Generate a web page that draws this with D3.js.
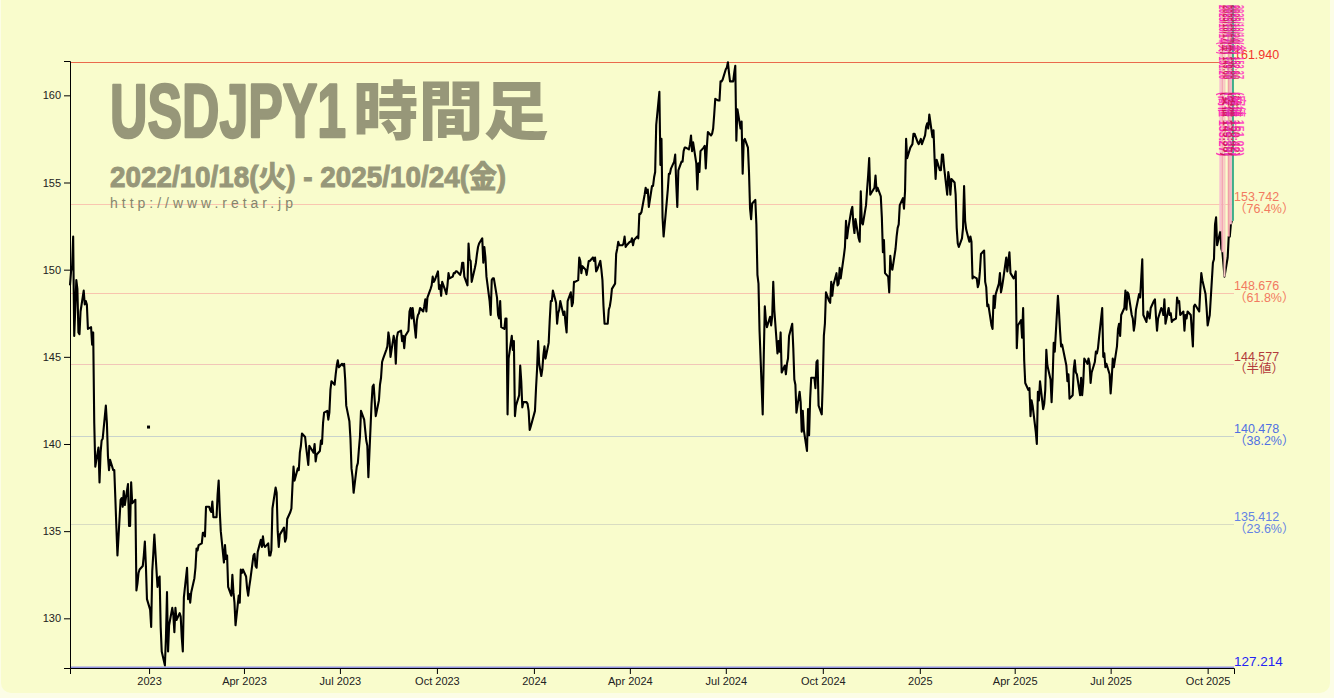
<!DOCTYPE html>
<meta charset="utf-8">
<script src="https://cdn.jsdelivr.net/npm/d3@7/dist/d3.min.js"></script>
<style>
body { margin: 0; background: #fcfde6; }
text { font-family: "Liberation Sans", "Noto Sans CJK JP", sans-serif; }
.axis text { font-size: 11px; fill: #222; font-family: "Liberation Sans", sans-serif; }
.axis path, .axis line { stroke: #000; }
</style>
<body>
<script>

// hourly USDJPY (MM-DD, price)
var p2022 = [["10-18",149.1],["10-19",149.9],["10-20",150.2],["10-21",151.9],["10-22",146.2],["10-24",149.4],["10-25",148.9],["10-26",146.4],["10-27",146.3],["10-28",147.6],["10-31",148.8],["11-01",148.0],["11-02",148.2],["11-03",148.0],["11-04",146.6],["11-07",146.7],["11-08",145.7],["11-09",146.4],["11-10",141.2],["11-11",138.7],["11-14",139.8],["11-15",137.8],["11-16",139.5],["11-17",140.2],["11-18",140.3],["11-21",142.2],["11-22",141.2],["11-23",139.3],["11-24",138.5],["11-25",139.1],["11-28",138.5],["11-29",138.5],["11-30",136.9],["12-01",135.2],["12-02",133.6],["12-05",136.8],["12-06",136.9],["12-07",136.4],["12-08",137.3],["12-09",136.5],["12-12",137.7],["12-13",135.3],["12-14",135.3],["12-15",137.8],["12-16",136.6],["12-19",136.8],["12-20",131.6],["12-21",132.0],["12-22",132.6],["12-23",132.8],["12-26",133.0],["12-27",133.6],["12-28",134.4],["12-29",133.0],["12-30",131.1]];

var p2023 = [["01-02",130.5],["01-03",129.5],["01-04",132.7],["01-05",133.7],["01-06",134.8],["01-09",131.8],["01-10",132.3],["01-11",132.4],["01-12",129.5],["01-13",128.1],["01-16",127.3],["01-17",128.9],["01-18",131.5],["01-19",128.1],["01-20",129.6],["01-23",130.6],["01-24",130.2],["01-25",129.2],["01-26",130.6],["01-27",129.9],["01-30",130.3],["01-31",130.1],["02-01",128.9],["02-02",128.1],["02-03",131.2],["02-06",132.9],["02-07",131.1],["02-08",131.4],["02-09",130.9],["02-10",131.5],["02-13",132.3],["02-14",132.9],["02-15",134.0],["02-16",133.9],["02-17",134.2],["02-20",134.3],["02-21",134.9],["02-22",134.9],["02-23",134.7],["02-24",136.4],["02-27",136.4],["02-28",136.2],["03-01",136.1],["03-02",136.7],["03-03",135.8],["03-06",135.8],["03-07",137.1],["03-08",137.9],["03-09",136.2],["03-10",135.0],["03-13",133.2],["03-14",134.2],["03-15",133.4],["03-16",133.6],["03-17",131.8],["03-20",131.3],["03-21",132.5],["03-22",131.5],["03-23",130.9],["03-24",129.6],["03-27",131.3],["03-28",130.9],["03-29",132.8],["03-30",132.6],["03-31",132.8],["04-03",132.4],["04-04",131.7],["04-05",131.3],["04-06",131.8],["04-07",132.2],["04-10",133.6],["04-11",133.7],["04-12",133.0],["04-13",132.9],["04-14",133.8],["04-17",134.5],["04-18",134.1],["04-19",134.7],["04-20",134.2],["04-21",134.1],["04-24",134.3],["04-25",133.6],["04-26",133.6],["04-27",133.9],["04-28",136.3],["05-01",137.5],["05-02",137.2],["05-03",135.0],["05-04",134.1],["05-05",134.8],["05-08",135.1],["05-09",135.2],["05-10",134.4],["05-11",134.6],["05-12",135.7],["05-15",136.1],["05-16",136.3],["05-17",137.6],["05-18",138.7],["05-19",137.9],["05-22",138.6],["05-23",138.5],["05-24",139.5],["05-25",139.9],["05-26",140.6],["05-29",140.4],["05-30",139.8],["05-31",139.3],["06-01",138.8],["06-02",139.9],["06-05",139.6],["06-06",139.5],["06-07",140.0],["06-08",139.0],["06-09",139.4],["06-12",139.6],["06-13",140.2],["06-14",140.0],["06-15",141.2],["06-16",141.8],["06-19",141.9],["06-20",141.4],["06-21",141.8],["06-22",143.1],["06-23",143.6],["06-26",143.4],["06-27",144.0],["06-28",144.5],["06-29",144.8],["06-30",144.4],["07-03",144.6],["07-04",144.5],["07-05",144.6],["07-06",143.7],["07-07",142.2],["07-10",141.3],["07-11",140.3],["07-12",138.6],["07-13",138.1],["07-14",137.2],["07-17",138.7],["07-18",138.9],["07-19",139.7],["07-20",140.4],["07-21",141.9],["07-24",141.4],["07-25",140.8],["07-26",140.2],["07-27",139.9],["07-28",138.1],["07-31",142.3],["08-01",143.3],["08-02",143.4],["08-03",142.5],["08-04",141.6],["08-07",142.5],["08-08",143.4],["08-09",143.8],["08-10",144.7],["08-11",144.9],["08-14",145.4],["08-15",145.6],["08-16",146.4],["08-17",146.0],["08-18",145.0],["08-21",146.2],["08-22",145.9],["08-23",144.6],["08-24",146.1],["08-25",146.4],["08-28",146.5],["08-29",145.9],["08-30",146.2],["08-31",145.5],["09-01",146.2],["09-04",146.5],["09-05",147.6],["09-06",147.8],["09-07",147.2],["09-08",147.8],["09-11",146.1],["09-12",147.1],["09-13",147.4],["09-14",147.5],["09-15",147.8],["09-18",147.6],["09-19",147.9],["09-20",148.3],["09-21",147.6],["09-22",148.4],["09-25",148.9],["09-26",149.1],["09-27",149.6],["09-28",149.3],["09-29",149.4],["10-02",149.9],["10-03",148.9],["10-04",149.1],["10-05",148.5],["10-06",149.3],["10-09",148.8],["10-10",148.6],["10-11",149.1],["10-12",149.8],["10-13",149.5],["10-16",149.6],["10-17",149.8],["10-18",149.8],["10-19",149.9],["10-20",149.9],["10-23",149.7],["10-24",149.9],["10-25",150.4],["10-26",150.4],["10-27",149.6],["10-30",149.1],["10-31",151.5],["11-01",150.6],["11-02",150.5],["11-03",149.3],["11-06",150.1],["11-07",150.4],["11-08",150.9],["11-09",151.3],["11-10",151.5],["11-13",151.8],["11-14",150.4],["11-15",151.3],["11-16",150.7],["11-17",149.6],["11-20",148.2],["11-21",147.4],["11-22",149.4],["11-23",149.5],["11-24",149.5],["11-27",148.4],["11-28",147.4],["11-29",147.2],["11-30",148.2],["12-01",146.7],["12-04",146.6],["12-05",147.2],["12-06",147.2],["12-07",141.7],["12-08",144.9],["12-11",146.2],["12-12",145.4],["12-13",145.9],["12-14",141.6],["12-15",142.2],["12-18",142.8],["12-19",144.5],["12-20",143.6],["12-21",142.1],["12-22",142.4],["12-25",142.4],["12-26",142.3],["12-27",141.9],["12-28",140.8],["12-29",141.0]];

var p2024 = [["01-02",141.9],["01-03",143.2],["01-04",144.3],["01-05",145.9],["01-06",144.6],["01-08",143.9],["01-09",144.3],["01-10",145.1],["01-11",145.6],["01-12",144.9],["01-15",145.8],["01-16",147.1],["01-17",148.2],["01-18",148.2],["01-19",148.8],["01-22",148.1],["01-23",146.9],["01-24",147.5],["01-25",147.7],["01-26",148.2],["01-29",147.4],["01-30",147.6],["01-31",146.9],["02-01",146.4],["02-02",148.2],["02-05",148.7],["02-06",147.9],["02-07",148.1],["02-08",149.3],["02-09",149.3],["02-12",149.4],["02-13",150.7],["02-14",150.5],["02-15",149.8],["02-16",150.2],["02-19",150.0],["02-20",149.7],["02-21",150.1],["02-22",150.5],["02-23",150.5],["02-26",150.7],["02-27",150.5],["02-28",150.7],["02-29",149.9],["03-01",150.0],["03-04",150.5],["03-05",150.0],["03-06",149.4],["03-07",147.9],["03-08",146.9],["03-11",146.9],["03-12",147.7],["03-13",147.9],["03-14",148.3],["03-15",148.9],["03-18",149.2],["03-19",150.9],["03-20",151.2],["03-21",151.6],["03-22",151.4],["03-25",151.4],["03-26",151.5],["03-27",151.9],["03-28",151.3],["03-29",151.4],["04-01",151.6],["04-02",151.6],["04-03",151.8],["04-04",151.4],["04-05",151.7],["04-08",151.9],["04-09",151.8],["04-10",153.2],["04-11",153.2],["04-12",153.3],["04-15",154.3],["04-16",154.7],["04-17",154.4],["04-18",154.6],["04-19",153.6],["04-22",154.8],["04-23",154.8],["04-24",155.3],["04-25",155.6],["04-26",158.3],["04-29",160.2],["04-30",156.0],["05-01",157.5],["05-02",153.0],["05-03",151.9],["05-06",153.9],["05-07",154.6],["05-08",155.5],["05-09",155.5],["05-10",155.8],["05-13",156.2],["05-14",156.6],["05-15",154.9],["05-16",153.6],["05-17",155.7],["05-20",156.2],["05-21",156.2],["05-22",156.8],["05-23",157.0],["05-24",157.0],["05-27",156.9],["05-28",157.2],["05-29",157.7],["05-30",156.8],["05-31",157.3],["06-03",156.1],["06-04",154.6],["06-05",156.1],["06-06",155.6],["06-07",156.8],["06-10",157.0],["06-11",157.1],["06-12",155.8],["06-13",157.0],["06-14",157.9],["06-17",157.7],["06-18",157.8],["06-19",158.1],["06-20",158.9],["06-21",159.8],["06-24",159.7],["06-25",159.7],["06-26",160.8],["06-27",160.8],["06-28",160.9],["07-01",161.5],["07-02",161.6],["07-03",161.9],["07-04",161.3],["07-05",160.8],["07-08",160.8],["07-09",161.3],["07-10",161.7],["07-11",157.4],["07-12",159.2],["07-15",158.1],["07-16",158.5],["07-17",155.5],["07-18",157.4],["07-19",157.5],["07-22",157.0],["07-23",155.6],["07-24",153.5],["07-25",152.9],["07-26",153.8],["07-29",154.0],["07-30",152.6],["07-31",149.7],["08-01",149.2],["08-02",146.5],["08-05",141.7],["08-06",145.0],["08-07",147.9],["08-08",147.1],["08-09",146.7],["08-12",147.3],["08-13",146.8],["08-14",147.3],["08-15",149.3],["08-16",147.7],["08-19",145.2],["08-20",145.9],["08-21",145.3],["08-22",146.4],["08-23",144.1],["08-26",144.5],["08-27",144.0],["08-28",144.6],["08-29",144.9],["08-30",146.2],["09-02",146.9],["09-03",145.5],["09-04",143.7],["09-05",143.4],["09-06",141.8],["09-09",143.0],["09-10",142.4],["09-11",140.7],["09-12",141.9],["09-13",140.8],["09-16",139.6],["09-17",142.0],["09-18",140.5],["09-19",142.6],["09-20",143.8],["09-23",143.8],["09-24",143.2],["09-25",144.7],["09-26",144.8],["09-27",142.2],["09-30",141.7],["10-01",143.6],["10-02",146.2],["10-03",146.9],["10-04",148.7],["10-07",148.2],["10-08",148.1],["10-09",149.3],["10-10",148.5],["10-11",149.1],["10-14",149.8],["10-15",149.1],["10-16",149.2],["10-17",150.1],["10-18",149.5],["10-21",150.8],["10-22",151.3],["10-23",152.8],["10-24",151.8],["10-25",152.3],["10-28",153.4],["10-29",153.6],["10-30",152.6],["10-31",152.1],["11-01",152.9],["11-04",151.8],["11-05",151.6],["11-06",154.5],["11-07",152.7],["11-08",152.6],["11-11",153.7],["11-12",154.6],["11-13",155.4],["11-14",156.4],["11-15",154.3],["11-18",154.6],["11-19",154.7],["11-20",155.4],["11-21",154.5],["11-22",154.7],["11-25",154.2],["11-26",153.0],["11-27",151.0],["11-28",151.7],["11-29",149.8],["12-02",149.6],["12-03",148.7],["12-04",150.8],["12-05",150.1],["12-06",150.0],["12-09",151.2],["12-10",151.9],["12-11",152.4],["12-12",152.6],["12-13",153.7],["12-16",154.1],["12-17",153.5],["12-18",154.5],["12-19",157.5],["12-20",156.4],["12-23",157.0],["12-24",157.1],["12-25",157.2],["12-26",157.8],["12-27",157.8],["12-30",157.3],["12-31",157.2]];

var p2025 = [["01-02",157.5],["01-03",157.2],["01-06",157.7],["01-07",158.2],["01-08",158.4],["01-09",158.1],["01-10",158.9],["01-13",157.6],["01-14",158.0],["01-15",156.4],["01-16",155.2],["01-17",156.3],["01-20",155.7],["01-21",155.7],["01-22",156.6],["01-23",156.6],["01-24",155.9],["01-27",154.3],["01-28",155.6],["01-29",155.2],["01-30",154.3],["01-31",155.2],["02-03",155.0],["02-04",154.3],["02-05",152.4],["02-06",151.5],["02-07",151.3],["02-10",151.8],["02-11",152.4],["02-12",154.8],["02-13",152.8],["02-14",152.3],["02-17",151.6],["02-18",151.9],["02-19",151.6],["02-20",149.5],["02-21",149.6],["02-24",149.5],["02-25",149.0],["02-26",149.2],["02-27",149.9],["02-28",150.9],["03-03",151.1],["03-04",149.3],["03-05",149.0],["03-06",147.9],["03-07",148.0],["03-10",146.8],["03-11",146.6],["03-12",148.5],["03-13",147.8],["03-14",148.6],["03-17",149.2],["03-18",149.8],["03-19",148.7],["03-20",149.0],["03-21",149.4],["03-24",150.7],["03-25",149.9],["03-26",150.5],["03-27",151.0],["03-28",149.8],["03-31",149.5],["04-01",149.6],["04-02",149.9],["04-03",145.5],["04-04",146.8],["04-07",147.1],["04-08",146.1],["04-09",147.8],["04-10",144.8],["04-11",143.5],["04-14",143.1],["04-15",143.2],["04-16",141.6],["04-17",142.5],["04-18",142.2],["04-21",140.7],["04-22",140.0],["04-23",143.0],["04-24",142.5],["04-25",143.6],["04-28",142.0],["04-29",142.3],["04-30",143.1],["05-01",145.4],["05-02",144.5],["05-05",143.7],["05-06",142.4],["05-07",143.8],["05-08",145.8],["05-09",145.3],["05-12",148.5],["05-13",147.6],["05-14",146.5],["05-15",145.6],["05-16",145.7],["05-19",144.8],["05-20",144.5],["05-21",143.6],["05-22",144.0],["05-23",142.6],["05-26",142.8],["05-27",144.3],["05-28",144.8],["05-29",144.1],["05-30",144.0],["06-02",142.8],["06-03",143.8],["06-04",142.8],["06-05",143.5],["06-06",144.9],["06-09",144.6],["06-10",144.9],["06-11",144.6],["06-12",143.5],["06-13",144.1],["06-16",144.7],["06-17",145.3],["06-18",145.2],["06-19",145.5],["06-20",146.1],["06-23",147.8],["06-24",145.0],["06-25",145.2],["06-26",144.4],["06-27",144.6],["06-30",144.0],["07-01",142.9],["07-02",143.7],["07-03",144.9],["07-04",144.4],["07-07",145.6],["07-08",146.6],["07-09",146.9],["07-10",146.2],["07-11",147.4],["07-14",147.8],["07-15",148.8],["07-16",147.7],["07-17",148.7],["07-18",148.6],["07-21",147.4],["07-22",147.2],["07-23",146.5],["07-24",146.9],["07-25",147.7],["07-28",148.6],["07-29",148.4],["07-30",149.5],["07-31",150.6],["08-01",147.4],["08-04",147.0],["08-05",147.6],["08-06",147.4],["08-07",147.2],["08-08",147.8],["08-11",148.2],["08-12",148.3],["08-13",147.3],["08-14",146.5],["08-15",147.2],["08-18",147.8],["08-19",147.7],["08-20",147.4],["08-21",148.3],["08-22",146.9],["08-25",147.8],["08-26",147.4],["08-27",147.5],["08-28",147.0],["08-29",147.1],["09-01",147.2],["09-02",148.4],["09-03",148.1],["09-04",148.2],["09-05",147.4],["09-08",147.6],["09-09",146.5],["09-10",147.4],["09-11",147.2],["09-12",147.6],["09-15",147.4],["09-16",146.5],["09-17",145.6],["09-18",147.9],["09-19",148.0],["09-22",147.7],["09-23",147.6],["09-24",148.8],["09-25",149.8],["09-26",149.4],["09-29",148.6],["09-30",147.8],["10-01",146.8],["10-02",147.1],["10-03",147.4],["10-06",150.4],["10-07",150.6],["10-08",152.6],["10-09",153.0],["10-10",151.4],["10-13",152.2],["10-14",151.2],["10-15",151.0],["10-16",150.3],["10-17",149.6],["10-20",150.7],["10-21",151.9],["10-22",151.9],["10-23",152.6],["10-24",152.8]];

// stray point visible near the start of 2023
var strayDots = [["2022-12-31", 141.0]];

// retracement levels, high to low
var levels = [161.940, 153.742, 148.676, 144.577, 140.478, 135.412, 127.214];
var levelNotes = ["", "（76.4%）", "（61.8%）", "（半値）", "（38.2%）", "（23.6%）", ""];
var levelLineColors = ["#ea6a4c", "#f9c6b0", "#f8c4ae", "#f1c6b8", "#c9d3cc", "#d9dcc2", "#9191e0"];
var levelTextColors = ["#f2352b", "#f27a60", "#f27a60", "#b23b3b", "#5070e2", "#6483e4", "#2424f4"];

var yTicks = [130, 135, 140, 145, 150, 155, 160];
var xTickDates = ["2023-01-01","2023-04-01","2023-07-01","2023-10-01","2024-01-01","2024-04-01","2024-07-01","2024-10-01","2025-01-01","2025-04-01","2025-07-01","2025-10-01"];
var xTickLabels = ["2023","Apr 2023","Jul 2023","Oct 2023","2024","Apr 2024","Jul 2024","Oct 2024","2025","Apr 2025","Jul 2025","Oct 2025"];

// event markers at the top right
var eventDates = ["2025-10-13","2025-10-15","2025-10-17","2025-10-21","2025-10-23","2025-10-25"];
var eventColors = ["#f8c2d0","#f3a6b6","#f8cac2","#ef9fa8","#f6b6c8","#3fae8a"];
var eventLabels = ["2025/10/14(火) 151.20","2025/10/17(金) 149.60","2025/10/21(火) 151.90","2025/10/24(金) 152.80","2025/10/10(金) 153.27"];
var eventNotes = ["(高値 153.27)","(安値 149.38)","(終値 152.86)","(始値 150.42)","(安値 151.02)"];

var width = 1334, height = 698;

var svg = d3.select("body").append("svg")
    .attr("width", width)
    .attr("height", height);

svg.append("rect")
    .attr("x", 1).attr("y", -14)
    .attr("width", 1329).attr("height", 707)
    .attr("rx", 10)
    .attr("fill", "#f9fccc");

var parse = d3.timeParse("%Y-%m-%d");

function rows(year, arr) {
  return arr.map(function(d) { return {date: parse(year + "-" + d[0]), value: d[1]}; });
}
var data = [].concat(rows(2022, p2022), rows(2023, p2023), rows(2024, p2024), rows(2025, p2025));

var x = d3.scaleTime()
    .domain([parse("2022-10-18"), parse("2025-10-26")])
    .range([70, 1234]);

var y = d3.scaleLinear()
    .domain([127.15, 161.97])
    .range([668, 61]);

// retracement lines
svg.append("g").selectAll("line")
    .data(levels)
    .enter().append("line")
    .attr("x1", x.range()[0])
    .attr("x2", x.range()[1])
    .attr("y1", function(d) { return Math.round(y(d)) + 0.5; })
    .attr("y2", function(d) { return Math.round(y(d)) + 0.5; })
    .attr("stroke", function(d, i) { return levelLineColors[i]; })
    .attr("stroke-width", function(d, i) { return i == levels.length - 1 ? 2 : 1; });

// title (squeezed horizontally like the original condensed face)
var titleColor = "#979779";
svg.append("text")
    .attr("transform", "translate(110,137) scale(0.682,1)")
    .attr("font-family", "'Liberation Sans', sans-serif")
    .attr("font-weight", "bold")
    .attr("font-size", 76)
    .attr("fill", titleColor)
    .attr("stroke", titleColor)
    .attr("stroke-width", 2.5)
    .attr("stroke-linejoin", "round")
    .text("USDJPY1");

svg.append("text")
    .attr("transform", "translate(353,134) scale(1.02,1)")
    .attr("font-family", "'Noto Sans CJK JP', sans-serif")
    .attr("font-weight", 900)
    .attr("font-size", 64)
    .attr("fill", titleColor)
    .text("時間足");

svg.append("text")
    .attr("x", 110).attr("y", 187)
    .attr("font-family", "'Liberation Sans Narrow', 'Liberation Sans', 'Noto Sans CJK JP', sans-serif")
    .attr("font-weight", "bold")
    .attr("font-size", 30)
    .attr("textLength", 396)
    .attr("lengthAdjust", "spacingAndGlyphs")
    .attr("fill", titleColor)
    .attr("stroke", titleColor)
    .attr("stroke-width", 1)
    .text("2022/10/18(火) - 2025/10/24(金)");

svg.append("text")
    .attr("x", 110).attr("y", 208)
    .attr("font-family", "'DejaVu Sans Mono', monospace")
    .attr("font-size", 14)
    .attr("textLength", 183)
    .attr("fill", "#85856c")
    .text("http://www.retar.jp");

// price line
var line = d3.line()
    .x(function(d) { return x(d.date); })
    .y(function(d) { return y(d.value); });

svg.append("path")
    .datum(data)
    .attr("fill", "none")
    .attr("stroke", "#000")
    .attr("stroke-width", 2.1)
    .attr("stroke-linejoin", "round")
    .attr("d", line);

svg.append("g").selectAll("rect")
    .data(strayDots)
    .enter().append("rect")
    .attr("x", function(d) { return x(parse(d[0])) - 1; })
    .attr("y", function(d) { return y(d[1]) - 1; })
    .attr("width", 3).attr("height", 3)
    .attr("fill", "#000");

// level labels
var lab = svg.append("g").selectAll("g")
    .data(levels)
    .enter().append("g")
    .attr("transform", function(d) { return "translate(" + x.range()[1] + "," + y(d) + ")"; });

lab.append("text")
    .attr("y", function(d, i) { return i == levels.length - 1 ? -1 : -3; })
    .attr("font-size", function(d, i) { return i == levels.length - 1 ? 13.5 : 12.5; })
    .attr("fill", function(d, i) { return levelTextColors[i]; })
    .text(function(d) { return d3.format(".3f")(d); });

lab.append("text")
    .attr("y", 9)
    .attr("font-size", 12.5)
    .attr("fill", function(d, i) { return levelTextColors[i]; })
    .text(function(d, i) { return levelNotes[i]; });

// event markers
var bisect = d3.bisector(function(d) { return d.date; }).left;
function priceAt(dt) {
  var i = Math.min(bisect(data, dt), data.length - 1);
  return data[i].value;
}

svg.append("g").selectAll("line")
    .data(eventDates)
    .enter().append("line")
    .attr("x1", function(d) { return x(parse(d)); })
    .attr("x2", function(d) { return x(parse(d)); })
    .attr("y1", 5)
    .attr("y2", function(d) { return y(priceAt(parse(d))); })
    .attr("stroke", function(d, i) { return eventColors[i]; })
    .attr("stroke-width", 2);

var evColors = ["#ff14b4", "#c8104e", "#e43cc4", "#d0105a", "#ff30c0"];
svg.append("g").selectAll("text")
    .data(eventLabels)
    .enter().append("text")
    .attr("transform", function(d, i) { return "translate(" + (1219 + i * 4) + ",5) rotate(90)"; })
    .attr("font-family", "'DejaVu Sans', 'Noto Sans CJK JP', sans-serif")
    .attr("font-weight", "bold")
    .attr("font-size", 12)
    .attr("textLength", 74)
    .attr("lengthAdjust", "spacingAndGlyphs")
    .attr("fill", function(d, i) { return evColors[i]; })
    .attr("opacity", 0.85)
    .text(function(d) { return d; });

svg.append("g").selectAll("text")
    .data(eventNotes)
    .enter().append("text")
    .attr("transform", function(d, i) { return "translate(" + (1219 + i * 4) + ",92) rotate(90)"; })
    .attr("font-family", "'DejaVu Sans', 'Noto Sans CJK JP', sans-serif")
    .attr("font-weight", "bold")
    .attr("font-size", 12)
    .attr("textLength", 64)
    .attr("lengthAdjust", "spacingAndGlyphs")
    .attr("fill", function(d, i) { return evColors[i]; })
    .attr("opacity", 0.85)
    .text(function(d) { return d; });

// axes
svg.append("g")
    .attr("class", "axis")
    .attr("transform", "translate(0," + y.range()[0] + ")")
    .call(d3.axisBottom(x)
        .tickValues(xTickDates.map(parse))
        .tickFormat(function(d, i) { return xTickLabels[i]; }));

svg.append("g")
    .attr("class", "axis")
    .attr("transform", "translate(" + x.range()[0] + ",0)")
    .call(d3.axisLeft(y).tickValues(yTicks));

</script>
</body>
